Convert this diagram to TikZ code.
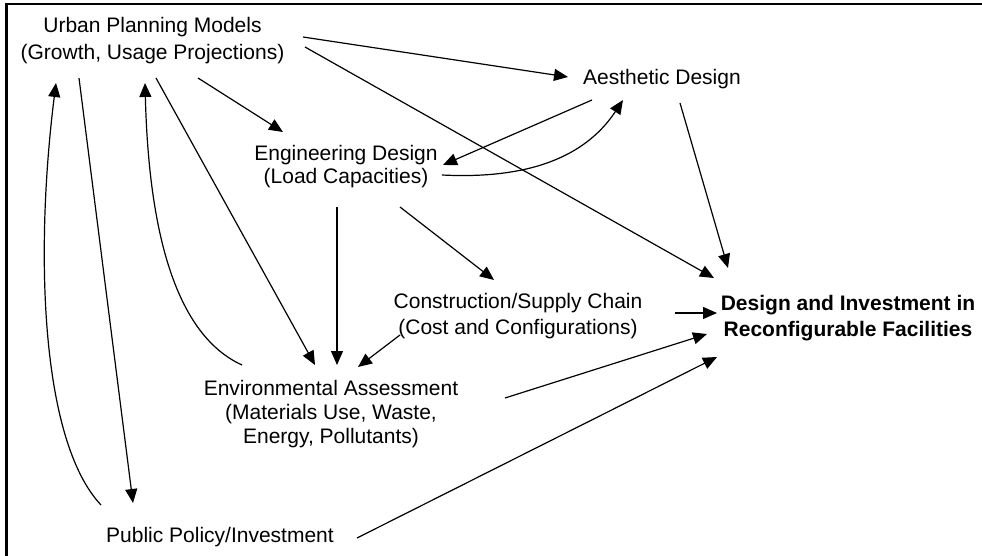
\documentclass[tikz,border=0pt]{standalone}
\usepackage{fontspec}
\setmainfont{Liberation Sans}
\usetikzlibrary{arrows.meta,calc}
\begin{document}
\begin{tikzpicture}[x=1pt,y=-1pt,
  lbl/.style={align=center, inner sep=0pt, anchor=base},
  arr/.style={line width=1.2pt, -{Triangle[length=14pt,width=12pt]}},
]
\useasboundingbox (0,0) rectangle (982,556);
\draw[line width=2.7pt] (6.5,556) -- (6.5,4) -- (982,4);

% base anchor = baseline of the last line
\node[lbl, font=\fontsize{21}{27}\selectfont] (urban) at (152.5,60) {Urban Planning Models\\(Growth, Usage Projections)};
\node[lbl, font=\fontsize{21}{26}\selectfont] (aes) at (662,85) {Aesthetic Design};
\node[lbl, font=\fontsize{21}{23}\selectfont] (eng) at (346,184) {Engineering Design\\(Load Capacities)};
\node[lbl, font=\fontsize{21}{26}\selectfont] (cons) at (518,334) {Construction/Supply Chain\\(Cost and Configurations)};
\node[lbl, font=\fontsize{21}{26}\selectfont\bfseries] (des) at (848,336) {Design and Investment in\\Reconfigurable Facilities};
\node[lbl, font=\fontsize{21}{24}\selectfont] (env) at (331,443) {Environmental Assessment\\(Materials Use, Waste,\\Energy, Pollutants)};
\node[lbl, font=\fontsize{21}{26}\selectfont] (pub) at (220,542) {Public Policy/Investment};

\draw[arr] ($(urban.base)+(150.5,-23)$) -- ($(aes.base)+(-94,-8)$);
\draw[arr] ($(urban.base)+(152.5,-13)$) -- ($(des.base)+(-134,-58)$);
\draw[arr] ($(urban.base)+(45.5,18)$) -- ($(eng.base)+(-63,-52)$);
\draw[arr] ($(aes.base)+(-70,15)$) -- ($(eng.base)+(97,-19)$);
\draw[arr] ($(eng.base)+(96,-9)$) .. controls +(98,5) and +(-33,50) .. ($(aes.base)+(-39,15)$);
\draw[arr] ($(aes.base)+(18,18)$) -- ($(des.base)+(-120,-68)$);
\draw[arr] ($(eng.base)+(-9,23)$) -- ($(env.base)+(6,-78)$);
\draw[arr] ($(eng.base)+(54,23)$) -- ($(cons.base)+(-24,-54)$);
\draw[arr] ($(cons.base)+(157,-21)$) -- ($(des.base)+(-131,-23)$);
\draw[arr] ($(env.base)+(174,-45)$) -- ($(des.base)+(-141,-2)$);
\draw[arr] ($(pub.base)+(137,-4)$) -- ($(des.base)+(-131,21)$);
\draw[arr] ($(cons.base)+(-118,1)$) -- ($(env.base)+(27,-76)$);
\draw[arr] ($(urban.base)+(3.5,18)$) -- ($(env.base)+(-16,-78)$);
\draw[arr] ($(env.base)+(-89,-78)$) .. controls +(-77,-35) and +(3,117) .. ($(urban.base)+(-7.5,23)$);
\draw[arr] ($(urban.base)+(-73.5,18)$) -- ($(pub.base)+(-87,-39)$);
\draw[arr] ($(pub.base)+(-119,-37)$) .. controls +(-61,-65) and +(-21,167) .. ($(urban.base)+(-96.5,23)$);
\end{tikzpicture}
\end{document}
